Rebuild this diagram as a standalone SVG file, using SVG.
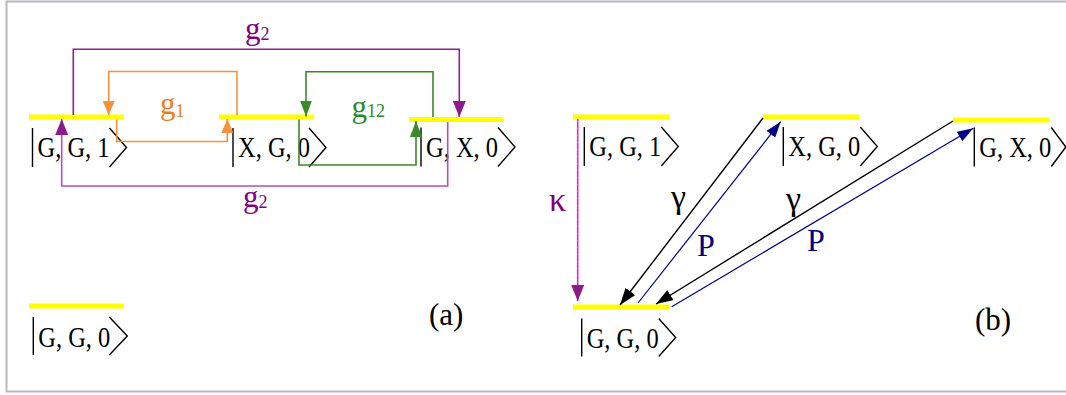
<svg xmlns="http://www.w3.org/2000/svg" width="1066" height="395" viewBox="0 0 1066 395">
<style>
.lvl{stroke:#ffff00;stroke-width:5;fill:none}
.ket text{font-family:"Liberation Serif","Times New Roman",serif;font-size:29px;fill:#000}
.ket line,.ket polyline{stroke:#000;stroke-width:1.4;fill:none}
.lbl{font-family:"Liberation Serif","Times New Roman",serif}
.c{fill:none;stroke-width:1.6}
</style>
<defs>
<marker id="aOr" markerUnits="userSpaceOnUse" markerWidth="14" markerHeight="12" refX="14" refY="6" orient="auto"><path d="M0,0 L14,6 L0,12 z" fill="#f7923a"/></marker>
<marker id="aPu" markerUnits="userSpaceOnUse" markerWidth="16" markerHeight="13" refX="16" refY="6.5" orient="auto"><path d="M0,0 L16,6.5 L0,13 z" fill="#8b1a8b"/></marker>
<marker id="aGr" markerUnits="userSpaceOnUse" markerWidth="16" markerHeight="12" refX="16" refY="6" orient="auto"><path d="M0,0 L16,6 L0,12 z" fill="#3a8a26"/></marker>
<marker id="aBk" markerUnits="userSpaceOnUse" markerWidth="17" markerHeight="12" refX="17" refY="6" orient="auto"><path d="M0,0 L17,6 L0,12 z" fill="#000"/></marker>
<marker id="aBl" markerUnits="userSpaceOnUse" markerWidth="16" markerHeight="11" refX="16" refY="5.5" orient="auto"><path d="M0,0 L16,5.5 L0,11 z" fill="#00008b"/></marker>
</defs>
<rect x="0" y="0" width="1066" height="395" fill="#fff"/>
<rect x="6.5" y="1.5" width="1070" height="390" fill="none" stroke="#b8b8c0" stroke-width="2"/>

<!-- panel (a) levels -->
<g id="a-GG1"><line class="lvl" x1="29" y1="117" x2="124" y2="117"/>
<g class="ket" transform="translate(32.5,128)"><line x1="0" y1="0" x2="0" y2="39"/><text x="5" y="29" textLength="72" lengthAdjust="spacingAndGlyphs">G, G, 1</text><polyline points="77,0 94,19.5 77,39"/></g></g>
<g id="a-XG0"><line class="lvl" x1="219" y1="117" x2="314" y2="117"/>
<g class="ket" transform="translate(233,128)"><line x1="0" y1="0" x2="0" y2="39"/><text x="5" y="29" textLength="72" lengthAdjust="spacingAndGlyphs">X, G, 0</text><polyline points="76,0 93,19.5 76,39"/></g></g>
<g id="a-GX0"><line class="lvl" x1="409" y1="119.5" x2="503" y2="119.5"/>
<g class="ket" transform="translate(421,127.5)"><line x1="0" y1="0" x2="0" y2="39"/><text x="5" y="29" textLength="72" lengthAdjust="spacingAndGlyphs">G, X, 0</text><polyline points="77,0 94,19.5 77,39"/></g></g>
<g id="a-GG0"><line class="lvl" x1="29" y1="306" x2="124" y2="306"/>
<g class="ket" transform="translate(33.3,317)"><line x1="0" y1="0" x2="0" y2="38"/><text x="5" y="29.5" textLength="72" lengthAdjust="spacingAndGlyphs">G, G, 0</text><polyline points="76,0 94,19 76,38"/></g></g>

<!-- panel (a) connectors -->
<g id="connectors-a">
<path class="c" d="M237,115 V71.5 H108.7 V115" stroke="#f7923a" marker-end="url(#aOr)"/>
<path class="c" d="M116.7,119.5 V141.5 H227.3 V119" stroke="#f7923a" marker-end="url(#aOr)"/>
<path class="c" d="M73.3,115 V49.3 H459.3 V117" stroke="#8d1e8d" marker-end="url(#aPu)"/>
<path class="c" d="M447.7,122 V186 H61.7 V119" stroke="#b450b4" marker-end="url(#aPu)"/>
<path class="c" d="M433,117 V71.7 H306 V116.5" stroke="#3a8a26" marker-end="url(#aGr)"/>
<path class="c" d="M299,119.5 V165 H416 V121" stroke="#3a8a26" marker-end="url(#aGr)"/>
<text class="lbl" x="160" y="113.5" font-size="31" fill="#f07d20">g<tspan font-size="18" dy="3">1</tspan></text>
<text class="lbl" x="245" y="38.5" font-size="31" fill="#800080">g<tspan font-size="18" dy="1">2</tspan></text>
<text class="lbl" x="243" y="206.5" font-size="31" fill="#800080">g<tspan font-size="18" dy="1">2</tspan></text>
<text class="lbl" x="351.5" y="116.5" font-size="31" fill="#2a8a2a">g<tspan font-size="18" dy="0">12</tspan></text>
</g>
<text class="lbl" x="429" y="325" font-size="31" fill="#000">(a)</text>

<!-- panel (b) levels -->
<g id="b-GG1"><line class="lvl" x1="573" y1="117" x2="669" y2="117"/>
<g class="ket" transform="translate(584.3,127)"><line x1="0" y1="0" x2="0" y2="39"/><text x="5" y="29" textLength="72" lengthAdjust="spacingAndGlyphs">G, G, 1</text><polyline points="77,0 94,19.5 77,39"/></g></g>
<g id="b-XG0"><line class="lvl" x1="763" y1="117" x2="859" y2="117"/>
<g class="ket" transform="translate(783.3,127)"><line x1="0" y1="0" x2="0" y2="39"/><text x="5" y="29" textLength="72" lengthAdjust="spacingAndGlyphs">X, G, 0</text><polyline points="77,0 94,19.5 77,39"/></g></g>
<g id="b-GX0"><line class="lvl" x1="953" y1="120" x2="1049" y2="120"/>
<g class="ket" transform="translate(974.3,127.5)"><line x1="0" y1="0" x2="0" y2="39"/><text x="5" y="29" font-size="27" textLength="72" lengthAdjust="spacingAndGlyphs">G, X, 0</text><polyline points="77,0 91.5,19.5 77,39"/></g></g>
<g id="b-GG0"><line class="lvl" x1="573" y1="307" x2="669" y2="307"/>
<g class="ket" transform="translate(581.7,318.5)"><line x1="0" y1="0" x2="0" y2="38"/><text x="5" y="29" textLength="72" lengthAdjust="spacingAndGlyphs">G, G, 0</text><polyline points="77,0 94,19 77,38"/></g></g>

<!-- panel (b) connectors -->
<g id="connectors-b">
<line x1="577.7" y1="119" x2="577.7" y2="301" stroke="#e020e0" stroke-width="1.6" marker-end="url(#aPu)"/>
<line x1="577.7" y1="121" x2="577.7" y2="286" stroke="#f7923a" stroke-width="0.8" stroke-dasharray="1 6"/>
<line x1="763" y1="118" x2="620" y2="305" stroke="#000" stroke-width="1.4" marker-end="url(#aBk)"/>
<line x1="953" y1="121" x2="656" y2="304" stroke="#000" stroke-width="1.4" marker-end="url(#aBk)"/>
<line x1="638" y1="303" x2="780.7" y2="121.7" stroke="#00008b" stroke-width="1.2" marker-end="url(#aBl)"/>
<line x1="671.7" y1="306.7" x2="973.3" y2="128.3" stroke="#00008b" stroke-width="1.2" marker-end="url(#aBl)"/>
<text class="lbl" x="549" y="211" font-size="34" fill="#800080">κ</text>
<text class="lbl" x="671" y="208" font-size="34" fill="#000">γ</text>
<text class="lbl" x="786" y="210" font-size="34" fill="#000">γ</text>
<text class="lbl" x="697" y="255.5" font-size="32" fill="#000080">P</text>
<text class="lbl" x="807" y="250.5" font-size="32" fill="#000080">P</text>
</g>
<text class="lbl" x="975" y="330" font-size="31" fill="#000">(b)</text>
</svg>
